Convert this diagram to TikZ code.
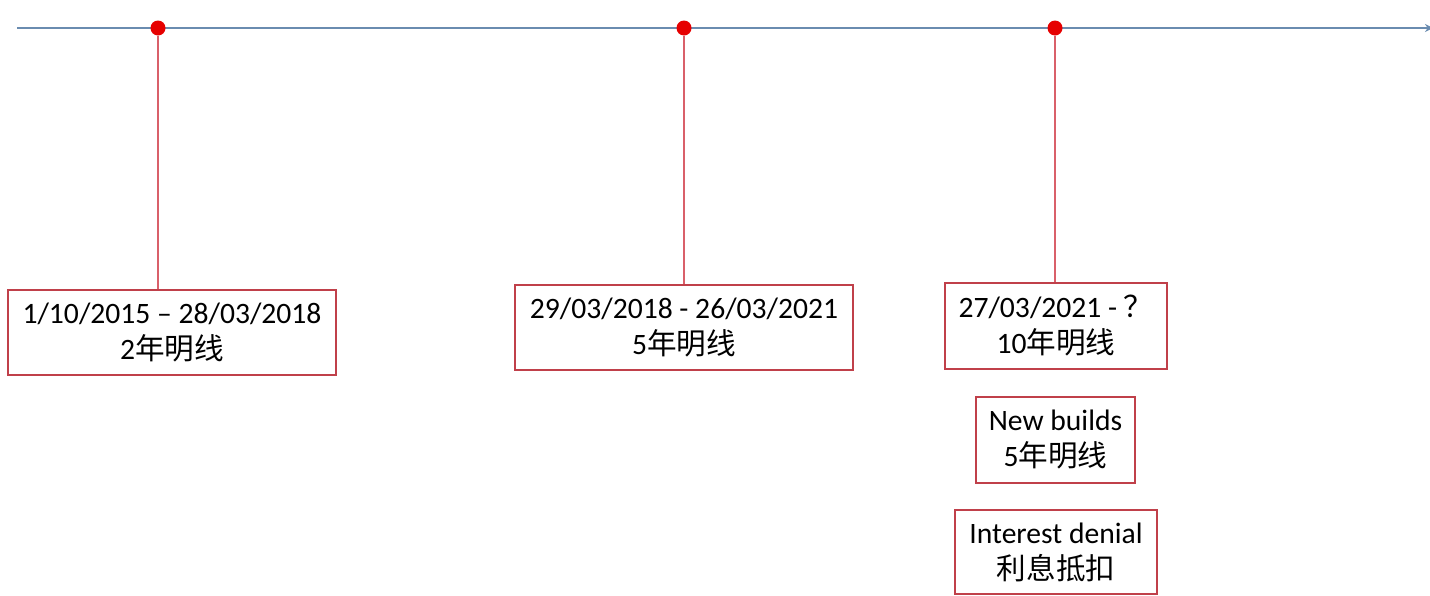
\documentclass[tikz,border=0pt]{standalone}
\usepackage{fontspec}
\setmainfont{Carlito}
\newfontfamily\cjk{Noto Sans CJK SC}
\usetikzlibrary{arrows.meta}
\definecolor{axisblue}{HTML}{6A8CB0}
\definecolor{stemred}{HTML}{D9606A}
\definecolor{boxred}{HTML}{C0404A}
\definecolor{dotred}{HTML}{E60000}
\tikzset{
  tbox/.style={draw=boxred, line width=1.3pt, rectangle, fill=white, align=center,
    inner sep=0pt, font=\fontsize{29.6}{36}\selectfont},
  tdot/.style={circle, fill=dotred, inner sep=0pt, minimum size=15pt},
  stem/.style={draw=stemred, line width=1.2pt},
  axis/.style={draw=axisblue, line width=1.2pt}
}
\begin{document}
\begin{tikzpicture}[x=1pt,y=-1pt]
\useasboundingbox (0,0) rectangle (1430,595);
\coordinate (a0) at (17,28);
\coordinate (a1) at (1433,28);
\draw[axis, -{Stealth[length=8pt,width=8pt]}] (a0) -- (a1);
\node[tbox, minimum width=328pt, minimum height=85pt] (b1) at (172,332.5) {1/10/2015 -- 28/03/2018\\2{\cjk 年明线}};
\node[tbox, minimum width=338pt, minimum height=85pt] (b2) at (684,327.5) {29/03/2018 - 26/03/2021\\5{\cjk 年明线}};
\node[tbox, minimum width=222pt, minimum height=86pt] (b3) at (1056,326) {27/03/2021 - {\cjk ？}\\10{\cjk 年明线}};
\node[tbox, minimum width=159pt, minimum height=86pt] (b4) at (1055.5,440) {New builds\\5{\cjk 年明线}};
\node[tbox, minimum width=202pt, minimum height=84pt] (b5) at (1056,552) {Interest denial\\{\cjk 利息抵扣}};
\node[tdot] (d1) at (158,28) {};
\node[tdot] (d2) at (684,28) {};
\node[tdot] (d3) at (1055,28) {};
\draw[stem] (d1.south) -- (d1.south |- b1.north);
\draw[stem] (d2.south) -- (d2.south |- b2.north);
\draw[stem] (d3.south) -- (d3.south |- b3.north);
\end{tikzpicture}
\end{document}
